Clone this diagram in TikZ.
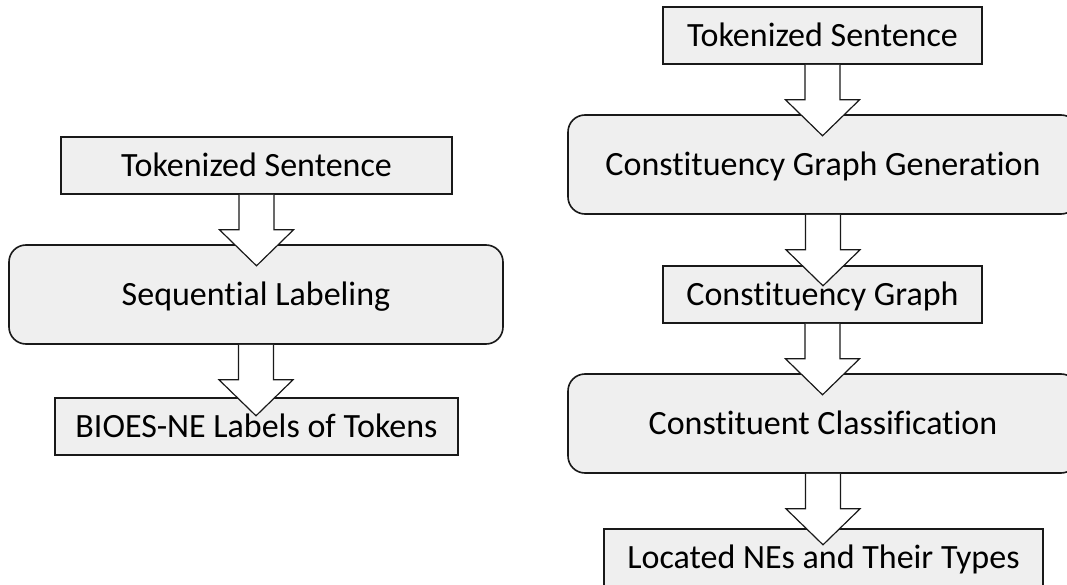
\documentclass[tikz,border=0pt]{standalone}
\usepackage{fontspec}
\setmainfont{Carlito}[Ligatures=NoCommon]
\usetikzlibrary{calc}
\definecolor{boxfill}{RGB}{239,239,239}
\definecolor{edgecol}{RGB}{25,25,25}
\tikzset{
  box/.style={draw=edgecol, line width=1.6pt, fill=boxfill, inner sep=0pt,
    text height=31pt, text depth=8.5pt, font=\fontsize{34}{40}\selectfont},
  sqbox/.style={box},
  rbox/.style={box, rounded corners=17pt},
  barrow/.style={draw=edgecol, fill=white, line width=1.2pt, line join=miter},
}
\newcommand\blockarrow[2]{%
  \path[barrow] let \p1=(#1.south), \p2=(#2.north) in
    (\x1-17.5pt,\y1) -- (\x1-17.5pt,\y1-35pt) -- (\x1-37pt,\y1-35pt)
    -- (\x1,\y1-71pt) -- (\x1+37pt,\y1-35pt) -- (\x1+17.5pt,\y1-35pt)
    -- (\x1+17.5pt,\y1);}
\begin{document}
\begin{tikzpicture}[x=1pt,y=-1pt]
\useasboundingbox (0,0) rectangle (1067,585);
\fill[white] (0,0) rectangle (1067,585);
\clip (0,0) rectangle (1067,585);
% left column
\node[sqbox, minimum width=391pt, minimum height=57pt] (l1) at (256.5,165.5) {Tokenized Sentence};
\node[rbox, minimum width=494pt, minimum height=99pt] (l2) at (256,294.5) {Sequential Labeling};
\node[sqbox, minimum width=403pt, minimum height=57pt] (l3) at (256.5,426.5) {BIOES-NE Labels of Tokens};
% right column
\node[sqbox, minimum width=319pt, minimum height=57pt] (r1) at (822.5,35.5) {Tokenized Sentence};
\node[rbox, minimum width=510pt, minimum height=99pt] (r2) at (823,164.5) {Constituency Graph Generation};
\node[sqbox, minimum width=319pt, minimum height=57pt] (r3) at (822.5,294.5) {Constituency Graph};
\node[rbox, minimum width=510pt, minimum height=99pt] (r4) at (823,423.5) {Constituent Classification};
\node[sqbox, minimum width=439pt, minimum height=57pt] (r5) at (823.5,557.5) {Located NEs and Their Types};
% arrows
\blockarrow{l1}{l2}
\blockarrow{l2}{l3}
\blockarrow{r1}{r2}
\blockarrow{r2}{r3}
\blockarrow{r3}{r4}
\blockarrow{r4}{r5}
\end{tikzpicture}
\end{document}
